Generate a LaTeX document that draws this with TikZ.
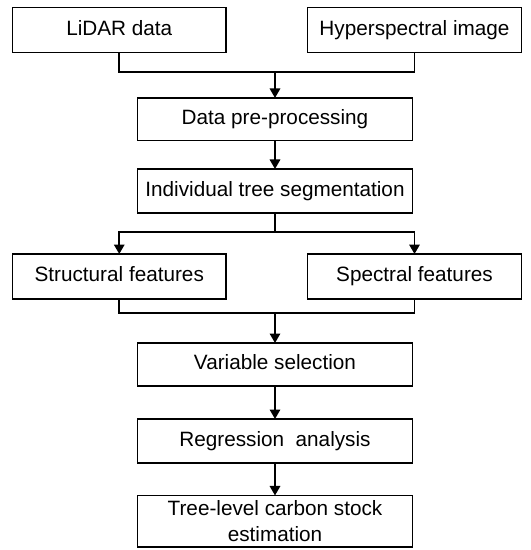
\documentclass[tikz,border=0pt]{standalone}
\usepackage{fontspec}
\setmainfont{Liberation Sans}
\usetikzlibrary{arrows.meta}
\begin{document}
\begin{tikzpicture}[x=1bp,y=-1bp,
  box/.style={draw,line width=1.7bp,inner sep=0pt,outer sep=0pt,align=center,
    font=\fontsize{20.8}{25.5}\selectfont},
  one/.style={text height=15bp,text depth=4.5bp},
  conn/.style={line width=1.7bp},
  arr/.style={conn,-{Triangle[length=9.5bp,width=10.5bp]}}]
\fill[white] (0,0) rectangle (531,550);
\useasboundingbox (0,0) rectangle (531,550);
\node[box,one,minimum width=213.5bp,minimum height=45bp] (lidar) at (119.25,30) {LiDAR data};
\node[box,one,minimum width=214bp,minimum height=45bp] (hyper) at (414.5,30) {Hyperspectral image};
\node[box,one,minimum width=275bp,minimum height=42.5bp] (pre) at (275,119.2) {Data pre-processing};
\node[box,one,minimum width=275bp,minimum height=44bp] (seg) at (275,191) {Individual tree segmentation};
\node[box,one,minimum width=213.5bp,minimum height=45bp] (struct) at (119.25,276.5) {Structural features};
\node[box,one,minimum width=214bp,minimum height=45bp] (spec) at (414.5,276.5) {Spectral features};
\node[box,one,minimum width=275bp,minimum height=43bp] (var) at (275,364.5) {Variable selection};
\node[box,one,minimum width=275bp,minimum height=44bp] (reg) at (275,441) {Regression\ \ analysis};
\node[box,minimum width=275bp,minimum height=51.5bp] (est) at (275,521.2) {Tree-level carbon stock\\estimation};
\coordinate (m1) at (275,72);
\coordinate (s1) at (275,232);
\coordinate (m2) at (275,312.8);
\draw[conn] (lidar.south) |- (m1) -| (hyper.south);
\draw[arr] (m1) -- (pre.north);
\draw[arr] (pre.south) -- (seg.north);
\draw[conn] (seg.south) -- (s1);
\draw[arr] (s1) -| (struct.north);
\draw[arr] (s1) -| (spec.north);
\draw[conn] (struct.south) |- (m2) -| (spec.south);
\draw[arr] (m2) -- (var.north);
\draw[arr] (var.south) -- (reg.north);
\draw[arr] (reg.south) -- (est.north);
\end{tikzpicture}
\end{document}
